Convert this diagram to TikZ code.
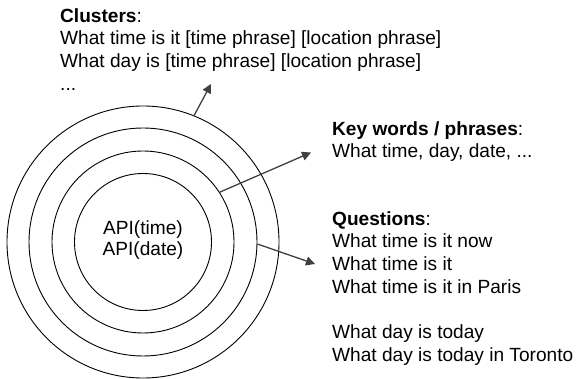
\documentclass[tikz,border=0pt]{standalone}
\usepackage{fontspec}
\setmainfont{Liberation Sans}
\usetikzlibrary{arrows.meta}
\definecolor{arrowgray}{HTML}{404040}
\tikzset{
  ring/.style={draw=black, line width=0.9pt, circle, minimum size=#1, inner sep=0pt},
  txt/.style={anchor=north west, inner sep=0pt, align=left, font=\fontsize{19.1}{22.7}\selectfont},
  pointer/.style={draw=arrowgray, line width=1.3pt, -{Triangle[length=9pt,width=9pt]}}
}
\begin{document}
\begin{tikzpicture}[x=1pt,y=-1pt]
\useasboundingbox (0,0) rectangle (576,379);
\coordinate (c) at (143,242);
\node[ring=272pt] (r4) at (c) {};
\node[ring=228pt] (r3) at (c) {};
\node[ring=182pt] (r2) at (c) {};
\node[ring=137pt] (r1) at (c) {};
\node[align=center, inner sep=0pt, font=\fontsize{19.1}{21.5}\selectfont] (api) at (143,240) {API(time)\\API(date)};

\node[txt] (clusters) at (60,8.1) {\textbf{Clusters}:\\What time is it [time phrase] [location phrase]\\What day is [time phrase] [location phrase]\\...};
\node[txt] (keys) at (332,121.1) {\textbf{Key words / phrases}:\\What time, day, date, ...};
\node[txt] (questions) at (332,211.1) {\textbf{Questions}:\\What time is it now\\What time is it\\What time is it in Paris\\[22.7pt]What day is today\\What day is today in Toronto};

\coordinate (t1) at (211,84);
\coordinate (t2) at (311,152.5);
\coordinate (t3) at (315,264);
\draw[pointer] (r4.{68.5}) -- (t1);
\draw[pointer] (r2.{33}) -- (t2);
\draw[pointer] (r3.{-1}) -- (t3);
\end{tikzpicture}
\end{document}
